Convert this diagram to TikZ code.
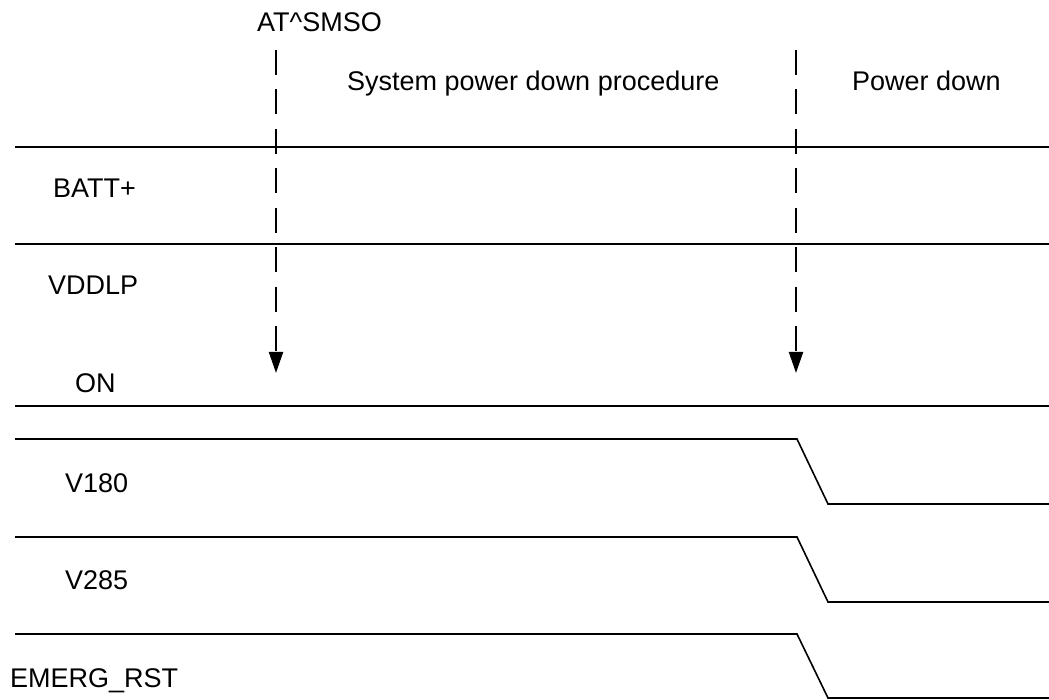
\documentclass[tikz,border=0pt]{standalone}
\usepackage{fontspec}
\setmainfont{Liberation Sans}
\usetikzlibrary{arrows.meta}
\begin{document}
\begin{tikzpicture}[x=1pt,y=-1pt,
  lbl/.style={anchor=base west,inner sep=0pt,font=\fontsize{27}{32}\selectfont},
  sig/.style={line width=1.6pt},
  marker/.style={line width=2pt,dash pattern=on 25pt off 14.5pt,-{Triangle[length=21pt,width=14pt]}}]
\useasboundingbox (0,0) rectangle (1049,700);
% labels
\node[lbl] (smso) at (257,32) {AT\^{}SMSO};
\node[lbl] (proc) at (347,91) {System power down procedure};
\node[lbl] (pd) at (852,91) {Power down};
\node[lbl] (batt) at (53,198) {BATT+};
\node[lbl] (vddlp) at (48,295) {VDDLP};
\node[lbl] (on) at (75,392) {ON};
\node[lbl] (v180) at (65,492) {V180};
\node[lbl] (v285) at (65,589) {V285};
\node[lbl] (emerg) at (10,687) {EMERG\_RST};
% dashed markers
\coordinate (m1s) at (276,50);
\coordinate (m1e) at (276,373);
\coordinate (m2s) at (796,50);
\coordinate (m2e) at (796,373);
\draw[marker] (m1s) -- (m1e);
\draw[marker] (m2s) -- (m2e);
% signals
\draw[sig] (15,147) -- (1049,147);
\draw[sig] (15,244) -- (1049,244);
\draw[sig] (15,406) -- (1049,406);
\draw[sig] (15,439) -- (797,439) -- (828,504) -- (1049,504);
\draw[sig] (15,537) -- (797,537) -- (828,602) -- (1049,602);
\draw[sig] (15,634) -- (797,634) -- (828,698) -- (1049,698);
\end{tikzpicture}
\end{document}
